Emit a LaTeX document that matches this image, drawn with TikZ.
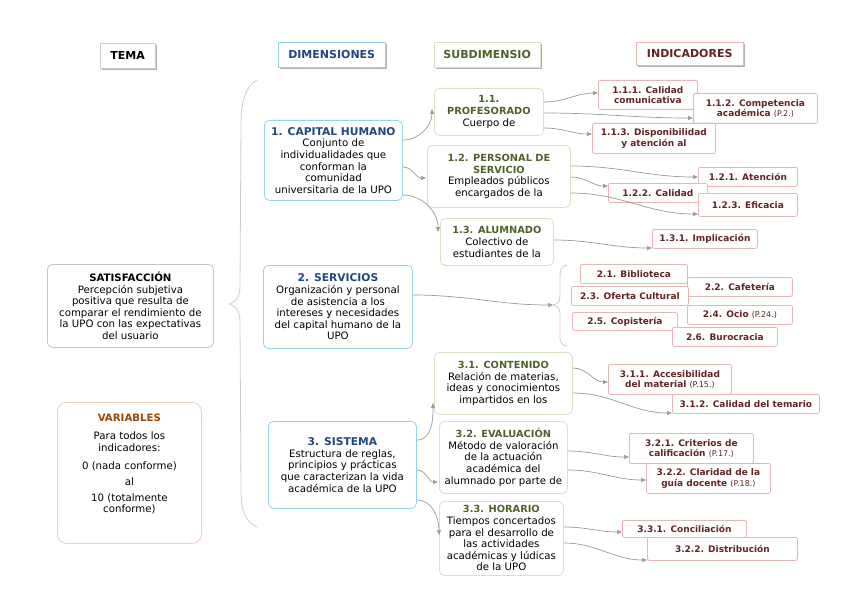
\documentclass[tikz,border=0pt]{standalone}
\usepackage{fontspec}
\setmainfont{DejaVu Sans}
\usepackage{tikz}
\usetikzlibrary{arrows.meta,positioning,calc,shadows}
\definecolor{dimc}{HTML}{92D3F0}
\definecolor{dimt}{HTML}{1F497D}
\definecolor{subc}{HTML}{D6E3BC}
\definecolor{subt}{HTML}{4F6228}
\definecolor{indc}{HTML}{E8B4B4}
\definecolor{indt}{HTML}{632423}
\definecolor{varc}{HTML}{F2CDB4}
\definecolor{vart}{HTML}{984807}
\definecolor{linkc}{HTML}{9A9A9A}

\begin{document}
\begin{tikzpicture}[x=1pt,y=1pt,font=\fontsize{10.2}{11.6}\selectfont,
 box/.style={anchor=north west,fill=white,rounded corners=5pt,align=center,inner sep=2pt},
 hdr/.style={box,rounded corners=0pt,draw=#1,font=\fontsize{11}{12}\selectfont\bfseries,minimum height=25pt,
   drop shadow={shadow xshift=2pt,shadow yshift=-2pt,fill=gray!60,opacity=1}},
 theme/.style={box,draw=gray!45,line width=0.8pt},
 dim/.style={box,draw=dimc,line width=0.8pt},
 sub/.style={box,draw=subc,line width=0.8pt},
 ind/.style={box,rounded corners=2pt,draw=indc,text=indt,line width=0.8pt,font=\fontsize{9}{10.4}\selectfont\bfseries,inner sep=1pt},
 arr/.style={draw=linkc,line width=0.7pt,-{Triangle[length=5pt,width=4pt]}},
 curly/.style={draw=gray!40,line width=0.8pt}]
\useasboundingbox[fill=white] (0,0) rectangle (848,-599);

% column headers
\node[hdr=gray!40,minimum width=55pt] (hTema) at (100,-43) {TEMA};
\node[hdr=dimc,text=dimt,minimum width=107pt] (hDim) at (278,-42) {DIMENSIONES};
\node[hdr=subc,text=subt,minimum width=106pt] (hSub) at (434,-42) {SUBDIMENSIO};
\node[hdr=indc,text=indt,minimum width=107pt,minimum height=23pt] (hInd) at (636,-42) {INDICADORES};

% tema and variables
\node[theme,minimum width=166pt,minimum height=83pt] (sat) at (47,-264)
 {\textbf{SATISFACCIÓN}\\Percepción subjetiva\\positiva que resulta de\\comparar el rendimiento de\\la UPO con las expectativas\\del usuario};
\node[box,draw=varc,line width=0.8pt,rounded corners=9pt,minimum width=144pt,minimum height=141pt] (var) at (57,-402)
 {{\color{vart}\bfseries VARIABLES}\\[7pt]Para todos los\\indicadores:\\[7pt]0 (nada conforme)\\[4pt]al\\[4pt]10 (totalmente\\conforme)\\[8pt]\mbox{}};

\draw[curly] (257,-80) .. controls (246,-86) and (241,-100) .. (241,-125) -- (240,-286)
 .. controls (240,-297) and (236,-302) .. (229,-304) .. controls (236,-306) and (240,-311) .. (240,-322)
 -- (241,-490) .. controls (241,-512) and (246,-522) .. (257,-527);

% dimensiones
\node[dim,minimum width=138pt,minimum height=80pt] (cap) at (264,-120)
 {{\color{dimt}\bfseries\fontsize{10.7}{11.6}\selectfont 1. CAPITAL HUMANO}\\Conjunto de\\individualidades que\\conforman la\\comunidad\\universitaria de la UPO};
\node[dim,minimum width=149pt,minimum height=83pt] (srv) at (263,-265)
 {{\color{dimt}\bfseries\fontsize{10.7}{11.6}\selectfont 2. SERVICIOS}\\Organización y personal\\de asistencia a los\\intereses y necesidades\\del capital humano de la\\UPO};
\node[dim,minimum width=148pt,minimum height=87pt] (sis) at (268,-421)
 {{\color{dimt}\bfseries\fontsize{10.7}{11.6}\selectfont 3. SISTEMA}\\Estructura de reglas,\\principios y prácticas\\que caracterizan la vida\\académica de la UPO};

% subdimensiones
\node[sub,minimum width=109pt,minimum height=47pt] (p11) at (434,-88)
 {{\color{subt}\bfseries\fontsize{9.8}{11.6}\selectfont 1.1.}\\{\color{subt}\bfseries\fontsize{9.8}{11.6}\selectfont PROFESORADO}\\Cuerpo de};
\node[sub,minimum width=143pt,minimum height=62pt] (p12) at (427,-145)
 {{\color{subt}\bfseries\fontsize{9.8}{11.6}\selectfont 1.2. PERSONAL DE}\\{\color{subt}\bfseries\fontsize{9.8}{11.6}\selectfont SERVICIO}\\Empleados públicos\\encargados de la};
\node[sub,minimum width=113pt,minimum height=47pt] (p13) at (440,-218)
 {{\color{subt}\bfseries\fontsize{9.8}{11.6}\selectfont 1.3. ALUMNADO}\\Colectivo de\\estudiantes de la};
\node[sub,minimum width=138pt,minimum height=62pt] (p31) at (434,-352)
 {{\color{subt}\bfseries\fontsize{9.8}{11.6}\selectfont 3.1. CONTENIDO}\\Relación de materias,\\ideas y conocimientos\\impartidos en los};
\node[sub,minimum width=128pt,minimum height=72pt] (p32) at (439,-421)
 {{\color{subt}\bfseries\fontsize{9.8}{11.6}\selectfont 3.2. EVALUACIÓN}\\Método de valoración\\de la actuación\\académica del\\alumnado por parte de};
\node[sub,minimum width=124pt,minimum height=74pt] (p33) at (439,-501)
 {{\color{subt}\bfseries\fontsize{9.8}{11.6}\selectfont 3.3. HORARIO}\\Tiempos concertados\\para el desarrollo de\\las actividades\\académicas y lúdicas\\de la UPO};

% indicadores
\node[ind,minimum width=99pt,minimum height=29pt] (i111) at (598,-80) {1.1.1. Calidad\\comunicativa};
\node[ind,minimum width=124pt,minimum height=30pt] (i112) at (693,-93) {1.1.2. Competencia\\académica {\mdseries\fontsize{8}{10}\selectfont (P.2.)}};
\node[ind,minimum width=123pt,minimum height=30pt] (i113) at (592,-123) {1.1.3. Disponibilidad\\y atención al};
\node[ind,minimum width=99pt,minimum height=19pt] (i121) at (698,-167) {1.2.1. Atención};
\node[ind,minimum width=99pt,minimum height=19pt] (i122) at (608,-183) {1.2.2. Calidad};
\node[ind,minimum width=99pt,minimum height=23pt] (i123) at (698,-193) {1.2.3. Eficacia};
\node[ind,minimum width=105pt,minimum height=19pt] (i131) at (652,-229) {1.3.1. Implicación};
\node[ind,minimum width=107pt,minimum height=19pt] (i21) at (580,-264) {2.1. Biblioteca};
\node[ind,minimum width=105pt,minimum height=19pt] (i22) at (687,-277) {2.2. Cafetería};
\node[ind,minimum width=117pt,minimum height=19pt] (i23) at (571,-286) {2.3. Oferta Cultural};
\node[ind,minimum width=105pt,minimum height=19pt] (i24) at (687,-305) {2.4. Ocio {\mdseries\fontsize{8}{10}\selectfont (P.24.)}};
\node[ind,minimum width=105pt,minimum height=18pt] (i25) at (572,-312) {2.5. Copistería};
\node[ind,minimum width=105pt,minimum height=19pt] (i26) at (672,-327) {2.6. Burocracia};
\node[ind,minimum width=123pt,minimum height=30pt] (i311) at (608,-364) {3.1.1. Accesibilidad\\del material {\mdseries\fontsize{8}{10}\selectfont (P.15.)}};
\node[ind,minimum width=147pt,minimum height=19pt] (i312) at (672,-394) {3.1.2. Calidad del temario};
\node[ind,minimum width=124pt,minimum height=30pt] (i321) at (629,-433) {3.2.1. Criterios de\\calificación {\mdseries\fontsize{8}{10}\selectfont (P.17.)}};
\node[ind,minimum width=124pt,minimum height=30pt] (i322) at (646,-463) {3.2.2. Claridad de la\\guía docente {\mdseries\fontsize{8}{10}\selectfont (P.18.)}};
\node[ind,minimum width=124pt,minimum height=17pt] (i331) at (622,-520) {3.3.1. Conciliación};
\node[ind,minimum width=150pt,minimum height=23pt] (i332) at (647,-537) {3.2.2. Distribución};

% small brace of the services
\coordinate (srvtip) at (553,-305);
\draw[curly] (567,-265) .. controls (562,-266) and (560,-269) .. (560,-276) -- (560,-296)
 .. controls (560,-302) and (557,-304) .. (srvtip) .. controls (557,-306) and (560,-308) .. (560,-314)
 -- (560,-338) .. controls (560,-343) and (562,-345) .. (567,-346);

% links
\draw[arr] ($(cap.north east)+(0,-20)$) to[out=0,in=-90] ($(p11.north west)+(-2,-21)$);
\draw[arr] ($(cap.north east)+(0,-47)$) to[out=0,in=180] ($(p12.north west)+(-1,-33)$);
\draw[arr] ($(cap.north east)+(0,-75)$) to[out=0,in=90] ($(p13.north west)+(-2,-14)$);
\draw[arr] ($(srv.north east)+(0,-30)$) to[out=0,in=180] (srvtip);
\draw[arr] ($(sis.north east)+(0,-19)$) to[out=0,in=-90] ($(p31.north west)+(-1,-51)$);
\draw[arr] ($(sis.north east)+(0,-49)$) to[out=0,in=180] ($(p32.north west)+(-1,-61)$);
\draw[arr] ($(sis.north east)+(0,-79)$) to[out=0,in=90] ($(p33.north west)+(0,-34)$);

\draw[arr] ($(p11.north east)+(0,-14)$) to[out=0,in=180] ($(i111.north west)+(0,-13)$);
\draw[arr] ($(p11.north east)+(0,-25)$) to[out=0,in=180] ($(i112.north west)+(0,-25)$);
\draw[arr] ($(p11.north east)+(0,-40)$) to[out=0,in=180] ($(i113.north west)+(0,-11)$);
\draw[arr] ($(p12.north east)+(0,-21)$) to[out=0,in=180] ($(i121.north west)+(0,-10)$);
\draw[arr] ($(p12.north east)+(0,-32)$) to[out=0,in=180] ($(i122.north west)+(0,-3)$);
\draw[arr] ($(p12.north east)+(0,-48)$) to[out=0,in=180] ($(i123.north west)+(0,-21)$);
\draw[arr] ($(p13.north east)+(0,-22)$) to[out=0,in=180] ($(i131.north west)+(0,-19)$);
\draw[arr] ($(p31.north east)+(0,-16)$) to[out=0,in=180] ($(i311.north west)+(0,-18)$);
\draw[arr] ($(p31.north east)+(0,-41)$) to[out=0,in=180] ($(i312.north west)+(0,-19)$);
\draw[arr] ($(p32.north east)+(0,-30)$) to[out=0,in=180] ($(i321.north west)+(0,-24)$);
\draw[arr] ($(p32.north east)+(0,-49)$) to[out=0,in=180] ($(i322.north west)+(0,-17)$);
\draw[arr] ($(p33.north east)+(0,-26)$) to[out=0,in=180] ($(i331.north west)+(0,-12)$);
\draw[arr] ($(p33.north east)+(0,-42)$) to[out=0,in=180] ($(i332.north west)+(0,-23)$);
\end{tikzpicture}
\end{document}
